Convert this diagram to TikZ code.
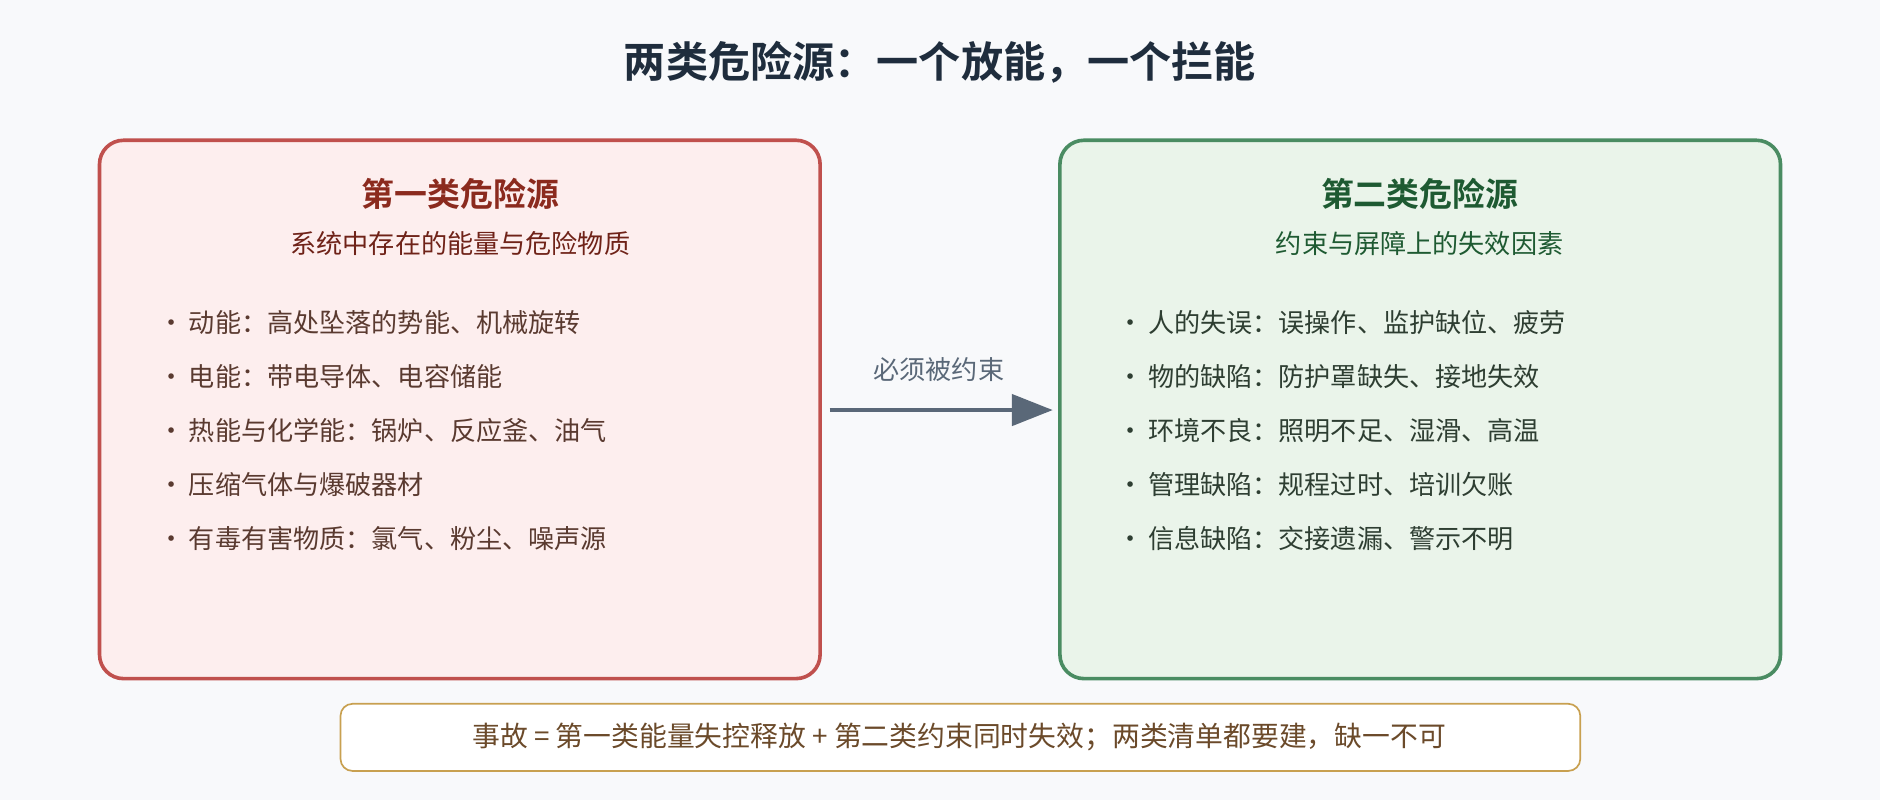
\documentclass[tikz,border=0pt]{standalone}
\usepackage{fontspec}
\setmainfont{Noto Sans CJK SC}[BoldFont={Noto Sans CJK SC Bold}]
\usetikzlibrary{positioning,arrows.meta}
\definecolor{bgc}{HTML}{F8F9FB}
\definecolor{ttl}{HTML}{1F2D3D}
\definecolor{redfill}{HTML}{FDEEEE}
\definecolor{redline}{HTML}{C0504D}
\definecolor{redtxt}{HTML}{8B2A1E}
\definecolor{reditem}{HTML}{5A3A30}
\definecolor{grnfill}{HTML}{EAF4EA}
\definecolor{grnline}{HTML}{4A8C62}
\definecolor{grntxt}{HTML}{1E5A32}
\definecolor{grnitem}{HTML}{2E3E32}
\definecolor{arrc}{HTML}{5A6878}
\definecolor{notec}{HTML}{C8A050}
\definecolor{notetxt}{HTML}{6B4A2A}
\tikzset{
  panel/.style={rounded corners=10mm, line width=4.3pt},
  head/.style={font=\fontsize{39}{46}\selectfont\bfseries},
  sub/.style={font=\fontsize{31}{36}\selectfont},
  item/.style={anchor=west, inner sep=0pt, font=\fontsize{31}{36}\selectfont},
}
\begin{document}
\begin{tikzpicture}[x=0.5mm, y=-0.5mm]
\fill[bgc] (0,0) rectangle (1568,667);
\node[font=\fontsize{50}{58}\selectfont\bfseries, text=ttl] (title) at (784,52) {两类危险源：一个放能，一个拦能};
% first kind
\draw[panel, draw=redline, fill=redfill] (83,117) rectangle (684,566);
\node[head, text=redtxt] (h1) at (384,162) {第一类危险源};
\node[sub, text=redtxt!80!black] (s1) at (384,203) {系统中存在的能量与危险物质};
\foreach \t [count=\i] in {动能：高处坠落的势能、机械旋转, 电能：带电导体、电容储能, 热能与化学能：锅炉、反应釜、油气, 压缩气体与爆破器材, 有毒有害物质：氯气、粉尘、噪声源}
  \node[item, text=reditem] (a\i) at (132,224+45*\i) {·\,\t};
% second kind
\draw[panel, draw=grnline, fill=grnfill] (884,117) rectangle (1485,566);
\node[head, text=grntxt] (h2) at (1184,162) {第二类危险源};
\node[sub, text=grntxt] (s2) at (1184,203) {约束与屏障上的失效因素};
\foreach \t [count=\i] in {人的失误：误操作、监护缺位、疲劳, 物的缺陷：防护罩缺失、接地失效, 环境不良：照明不足、湿滑、高温, 管理缺陷：规程过时、培训欠账, 信息缺陷：交接遗漏、警示不明}
  \node[item, text=grnitem] (b\i) at (932,224+45*\i) {·\,\t};
% arrow
\coordinate (p1) at (692,342);
\coordinate (p2) at (878,342);
\draw[arrc, line width=4.5pt, -{Triangle[length=17mm,width=13mm]}] (p1) -- (p2);
\node[sub, text=arrc] (lbl) at (783,308) {必须被约束};
% note
\draw[rounded corners=5mm, line width=2pt, draw=notec, fill=white] (284,587) rectangle (1318,643);
\node[font=\fontsize{33}{38}\selectfont, text=notetxt] (note) at (800,615) {事故 = 第一类能量失控释放 + 第二类约束同时失效；两类清单都要建，缺一不可};
\end{tikzpicture}
\end{document}
